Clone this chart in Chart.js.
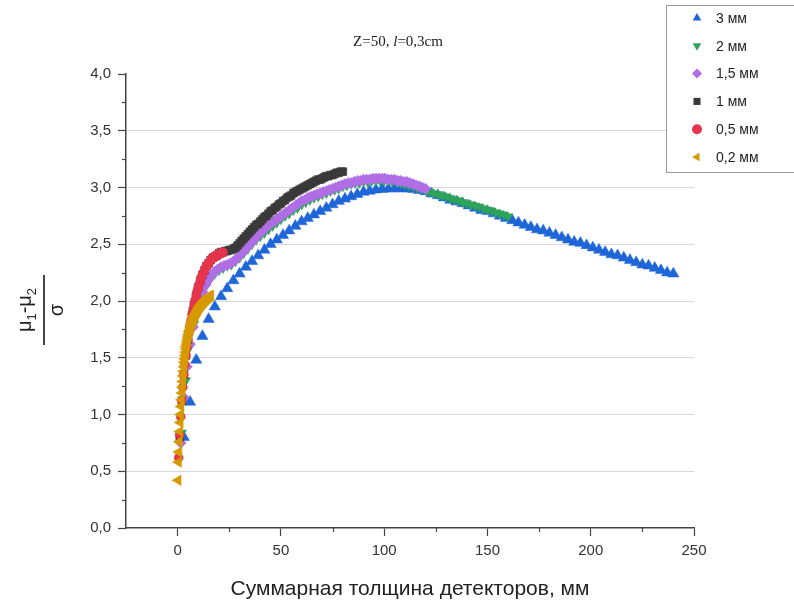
<!DOCTYPE html>
<html>
<head>
<meta charset="utf-8">
<script src="https://cdn.jsdelivr.net/npm/chart.js@4.4.0/dist/chart.umd.min.js"></script>
<style>
  html, body { margin: 0; padding: 0; background: #fff; }
  #wrap { position: relative; width: 794px; height: 606px; overflow: hidden; font-family: "Liberation Sans", Arial, sans-serif; color: #222; }
  #chart { position: absolute; left: 0; top: 0; }
  #title { position: absolute; left: 318px; top: 33px; width: 160px; text-align: center; font-family: "Liberation Serif", "Times New Roman", serif; font-size: 15px; color: #222; }
  #xtitle { position: absolute; left: 126px; width: 568px; top: 576px; text-align: center; font-size: 21px; color: #222; }
  #ytitle { position: absolute; left: 6px; top: 283px; width: 70px; text-align: center; font-size: 20px; transform: rotate(-90deg); color: #222; }
  #ytitle .num { border-bottom: 2px solid #444; line-height: 21px; padding-bottom: 1px; }
  #ytitle .den { line-height: 23px; }
  #ytitle sub { font-size: 13px; }
</style>
</head>
<body>
<div id="wrap">
  <canvas id="chart" width="794" height="606"></canvas>
  <div id="title">Z=50, <i>l</i>=0,3cm</div>
  <div id="ytitle"><div class="num">μ<sub>1</sub>-μ<sub>2</sub></div><div class="den">σ</div></div>
  <div id="xtitle">Суммарная толщина детекторов, мм</div>
</div>
<script>
// detector thickness of each series, mm (x = number of detectors * thickness)
const thickness = [3, 2, 1.5, 1, 0.5, 0.2];
const seriesLabels = ['3 мм', '2 мм', '1,5 мм', '1 мм', '0,5 мм', '0,2 мм'];
const seriesColors = ['#1e66d8', '#2ea35a', '#b06ee6', '#3a3a3a', '#e6344c', '#d69a00'];

const y3mm = [
  0.80, 1.11, 1.48, 1.69, 1.84, 1.95, 2.04, 2.11, 2.18, 2.24,
  2.30, 2.35, 2.40, 2.45, 2.50, 2.54, 2.58, 2.62, 2.66, 2.70,
  2.73, 2.76, 2.79, 2.82, 2.85, 2.88, 2.90, 2.92, 2.94, 2.96,
  2.97, 2.98, 2.985, 2.99, 2.99, 2.99, 2.99, 2.985, 2.975, 2.965,
  2.945, 2.93, 2.91, 2.89, 2.875, 2.86, 2.84, 2.82, 2.80, 2.79,
  2.77, 2.75, 2.73, 2.71, 2.69, 2.67, 2.65, 2.63, 2.62, 2.60,
  2.58, 2.56, 2.54, 2.52, 2.51, 2.49, 2.47, 2.45, 2.43, 2.41,
  2.40, 2.38, 2.36, 2.34, 2.32, 2.31, 2.29, 2.27, 2.25, 2.24
];
const y2mm = [
  0.84, 1.30, 1.60, 1.80, 1.95, 2.06, 2.14, 2.20, 2.24, 2.27,
  2.29, 2.31, 2.32, 2.35, 2.38, 2.42, 2.46, 2.50, 2.54, 2.57,
  2.60, 2.63, 2.66, 2.69, 2.72, 2.75, 2.77, 2.80, 2.82, 2.85,
  2.87, 2.89, 2.91, 2.92, 2.94, 2.95, 2.97, 2.98, 2.99, 3.01,
  3.02, 3.03, 3.04, 3.04, 3.05, 3.05, 3.06, 3.06, 3.06, 3.06,
  3.06, 3.05, 3.05, 3.04, 3.03, 3.02, 3.01, 3.00, 2.99, 2.975,
  2.96, 2.95, 2.94, 2.93, 2.92, 2.905, 2.895, 2.885, 2.87, 2.86,
  2.85, 2.84, 2.83, 2.815, 2.805, 2.795, 2.78, 2.77, 2.76, 2.745
];
const y15mm = [
  0.75, 1.15, 1.42, 1.62, 1.77, 1.90, 2.00, 2.08, 2.14, 2.19,
  2.23, 2.26, 2.28, 2.30, 2.31, 2.32, 2.33, 2.35, 2.37, 2.40,
  2.43, 2.46, 2.49, 2.52, 2.55, 2.58, 2.61, 2.63, 2.66, 2.68,
  2.70, 2.72, 2.74, 2.76, 2.78, 2.80, 2.82, 2.84, 2.86, 2.88,
  2.89, 2.91, 2.92, 2.93, 2.94, 2.95, 2.96, 2.97, 2.98, 2.99,
  3.00, 3.01, 3.02, 3.03, 3.04, 3.04, 3.05, 3.06, 3.06, 3.07,
  3.07, 3.07, 3.08, 3.08, 3.08, 3.08, 3.08, 3.07, 3.07, 3.07,
  3.06, 3.06, 3.05, 3.05, 3.04, 3.03, 3.02, 3.01, 3.00, 2.99
];
const y1mm = [
  0.80, 1.12, 1.35, 1.52, 1.66, 1.78, 1.88, 1.97, 2.05, 2.12,
  2.18, 2.23, 2.27, 2.31, 2.33, 2.36, 2.38, 2.39, 2.40, 2.42,
  2.43, 2.43, 2.44, 2.44, 2.45, 2.45, 2.46, 2.47, 2.49, 2.51,
  2.53, 2.55, 2.57, 2.59, 2.61, 2.63, 2.65, 2.67, 2.68, 2.70,
  2.72, 2.74, 2.75, 2.77, 2.79, 2.80, 2.82, 2.83, 2.85, 2.86,
  2.88, 2.89, 2.91, 2.92, 2.93, 2.95, 2.96, 2.97, 2.98, 2.99,
  3.00, 3.01, 3.02, 3.03, 3.04, 3.05, 3.06, 3.07, 3.07, 3.08,
  3.09, 3.10, 3.10, 3.11, 3.11, 3.12, 3.13, 3.13, 3.14, 3.14
];
const y05mm = [
  0.62, 0.82, 0.98, 1.12, 1.24, 1.35, 1.44, 1.52, 1.59, 1.66,
  1.72, 1.78, 1.83, 1.88, 1.93, 1.97, 2.01, 2.05, 2.09, 2.12,
  2.15, 2.18, 2.21, 2.23, 2.25, 2.27, 2.29, 2.31, 2.32, 2.33,
  2.35, 2.36, 2.37, 2.38, 2.39, 2.39, 2.40, 2.40, 2.41, 2.41,
  2.42, 2.42, 2.42, 2.43
];
const y02mm = [
  0.42, 0.58, 0.67, 0.76, 0.85, 0.93, 1.00, 1.07, 1.13, 1.19,
  1.24, 1.29, 1.34, 1.38, 1.42, 1.46, 1.49, 1.52, 1.55, 1.58,
  1.60, 1.62, 1.64, 1.66, 1.68, 1.70, 1.71, 1.73, 1.74, 1.75,
  1.77, 1.78, 1.79, 1.80, 1.81, 1.82, 1.83, 1.84, 1.85, 1.86,
  1.87, 1.87, 1.88, 1.89, 1.90, 1.90, 1.91, 1.92, 1.92, 1.93,
  1.94, 1.94, 1.95, 1.95, 1.96, 1.96, 1.97, 1.97, 1.98, 1.98,
  1.99, 1.99, 1.99, 2.00, 2.00, 2.01, 2.01, 2.01, 2.02, 2.02,
  2.02, 2.03, 2.03, 2.03, 2.04, 2.04, 2.04, 2.05, 2.05, 2.05
];
const seriesValues = [y3mm, y2mm, y15mm, y1mm, y05mm, y02mm];

const xTicks = [0, 50, 100, 150, 200, 250];
const xMinorTicks = [25, 75, 125, 175, 225];
const yTicks = [0, 0.5, 1, 1.5, 2, 2.5, 3, 3.5, 4];
const yMinorTicks = [0.25, 0.75, 1.25, 1.75, 2.25, 2.75, 3.25, 3.75];

// marker per series: style, rotation, radius, draw order (lower = on top)
const markers = [
  { style: 'triangle', rot: 0, r: 6.5, order: 6 },
  { style: 'triangle', rot: 180, r: 5.5, order: 5 },
  { style: 'rectRot', rot: 0, r: 5.5, order: 4 },
  { style: 'rect', rot: 0, r: 5.5, order: 3 },
  { style: 'circle', rot: 0, r: 4.5, order: 2 },
  { style: 'triangle', rot: 270, r: 6, order: 1 },
];

const datasets = seriesValues.map((vals, s) => ({
  label: seriesLabels[s],
  data: vals.map((y, i) => ({ x: +((i + 1) * thickness[s]).toFixed(2), y })),
  backgroundColor: seriesColors[s],
  borderColor: seriesColors[s],
  pointStyle: markers[s].style,
  rotation: markers[s].rot,
  pointRadius: markers[s].r,
  pointBorderWidth: 0.5,
  order: markers[s].order,
}));

const fmtComma = v => Number(v).toFixed(1).replace('.', ',');

// minor ticks and the boxed legend in the top right corner
const extras = {
  id: 'extras',
  afterDraw(chart) {
    const { ctx, chartArea, scales } = chart;
    ctx.save();
    ctx.strokeStyle = '#444';
    ctx.lineWidth = 1.2;
    yMinorTicks.forEach(v => {
      const y = Math.round(scales.y.getPixelForValue(v)) + 0.5;
      ctx.beginPath(); ctx.moveTo(chartArea.left - 4, y); ctx.lineTo(chartArea.left, y); ctx.stroke();
    });
    xMinorTicks.forEach(v => {
      const x = Math.round(scales.x.getPixelForValue(v)) + 0.5;
      ctx.beginPath(); ctx.moveTo(x, chartArea.bottom); ctx.lineTo(x, chartArea.bottom + 4); ctx.stroke();
    });

    // legend
    ctx.fillStyle = '#fff';
    ctx.fillRect(666, 5, 140, 167);
    ctx.strokeStyle = '#9a9a9a';
    ctx.lineWidth = 1;
    ctx.strokeRect(666.5, 5.5, 140, 167);
    ctx.font = '14px "Liberation Sans", Arial, sans-serif';
    ctx.textBaseline = 'middle';
    seriesLabels.forEach((lab, s) => {
      const y = 18 + s * 27.8;
      ctx.fillStyle = seriesColors[s];
      ctx.strokeStyle = seriesColors[s];
      Chart.helpers.drawPoint(ctx, { pointStyle: markers[s].style, rotation: markers[s].rot, radius: 5, borderWidth: 0 }, 697, y);
      ctx.fillStyle = '#222';
      ctx.fillText(lab, 716, y + 1);
    });
    ctx.restore();
  }
};

new Chart(document.getElementById('chart').getContext('2d'), {
  type: 'scatter',
  data: { datasets },
  options: {
    responsive: false,
    animation: false,
    layout: { padding: { top: 74, right: 100, left: 0, bottom: 0 } },
    plugins: { legend: { display: false }, tooltip: { enabled: false } },
    scales: {
      x: {
        type: 'linear', min: -25, max: 250,
        afterBuildTicks: s => { s.ticks = xTicks.map(v => ({ value: v })); },
        afterFit: s => { s.height = 78; },
        grid: { drawOnChartArea: false, tickLength: 8, tickColor: '#444', tickWidth: 1.2 },
        border: { color: '#444', width: 1.5 },
        ticks: { color: '#333', padding: 6, font: { family: '"Liberation Sans", Arial, sans-serif', size: 15 }, callback: v => v },
      },
      y: {
        type: 'linear', min: 0, max: 4,
        afterBuildTicks: s => { s.ticks = yTicks.map(v => ({ value: v })); },
        afterFit: s => { s.width = 126; },
        grid: {
          color: c => (c.tick && (c.tick.value === 0 || c.tick.value === 4)) ? 'rgba(0,0,0,0)' : '#d9d9d9',
          lineWidth: 1, tickLength: 8, tickColor: '#444', tickWidth: 1.2,
        },
        border: { color: '#444', width: 1.5 },
        ticks: { color: '#333', padding: 7, font: { family: '"Liberation Sans", Arial, sans-serif', size: 15 }, callback: v => fmtComma(v) },
      },
    },
  },
  plugins: [extras],
});
</script>
</body>
</html>
